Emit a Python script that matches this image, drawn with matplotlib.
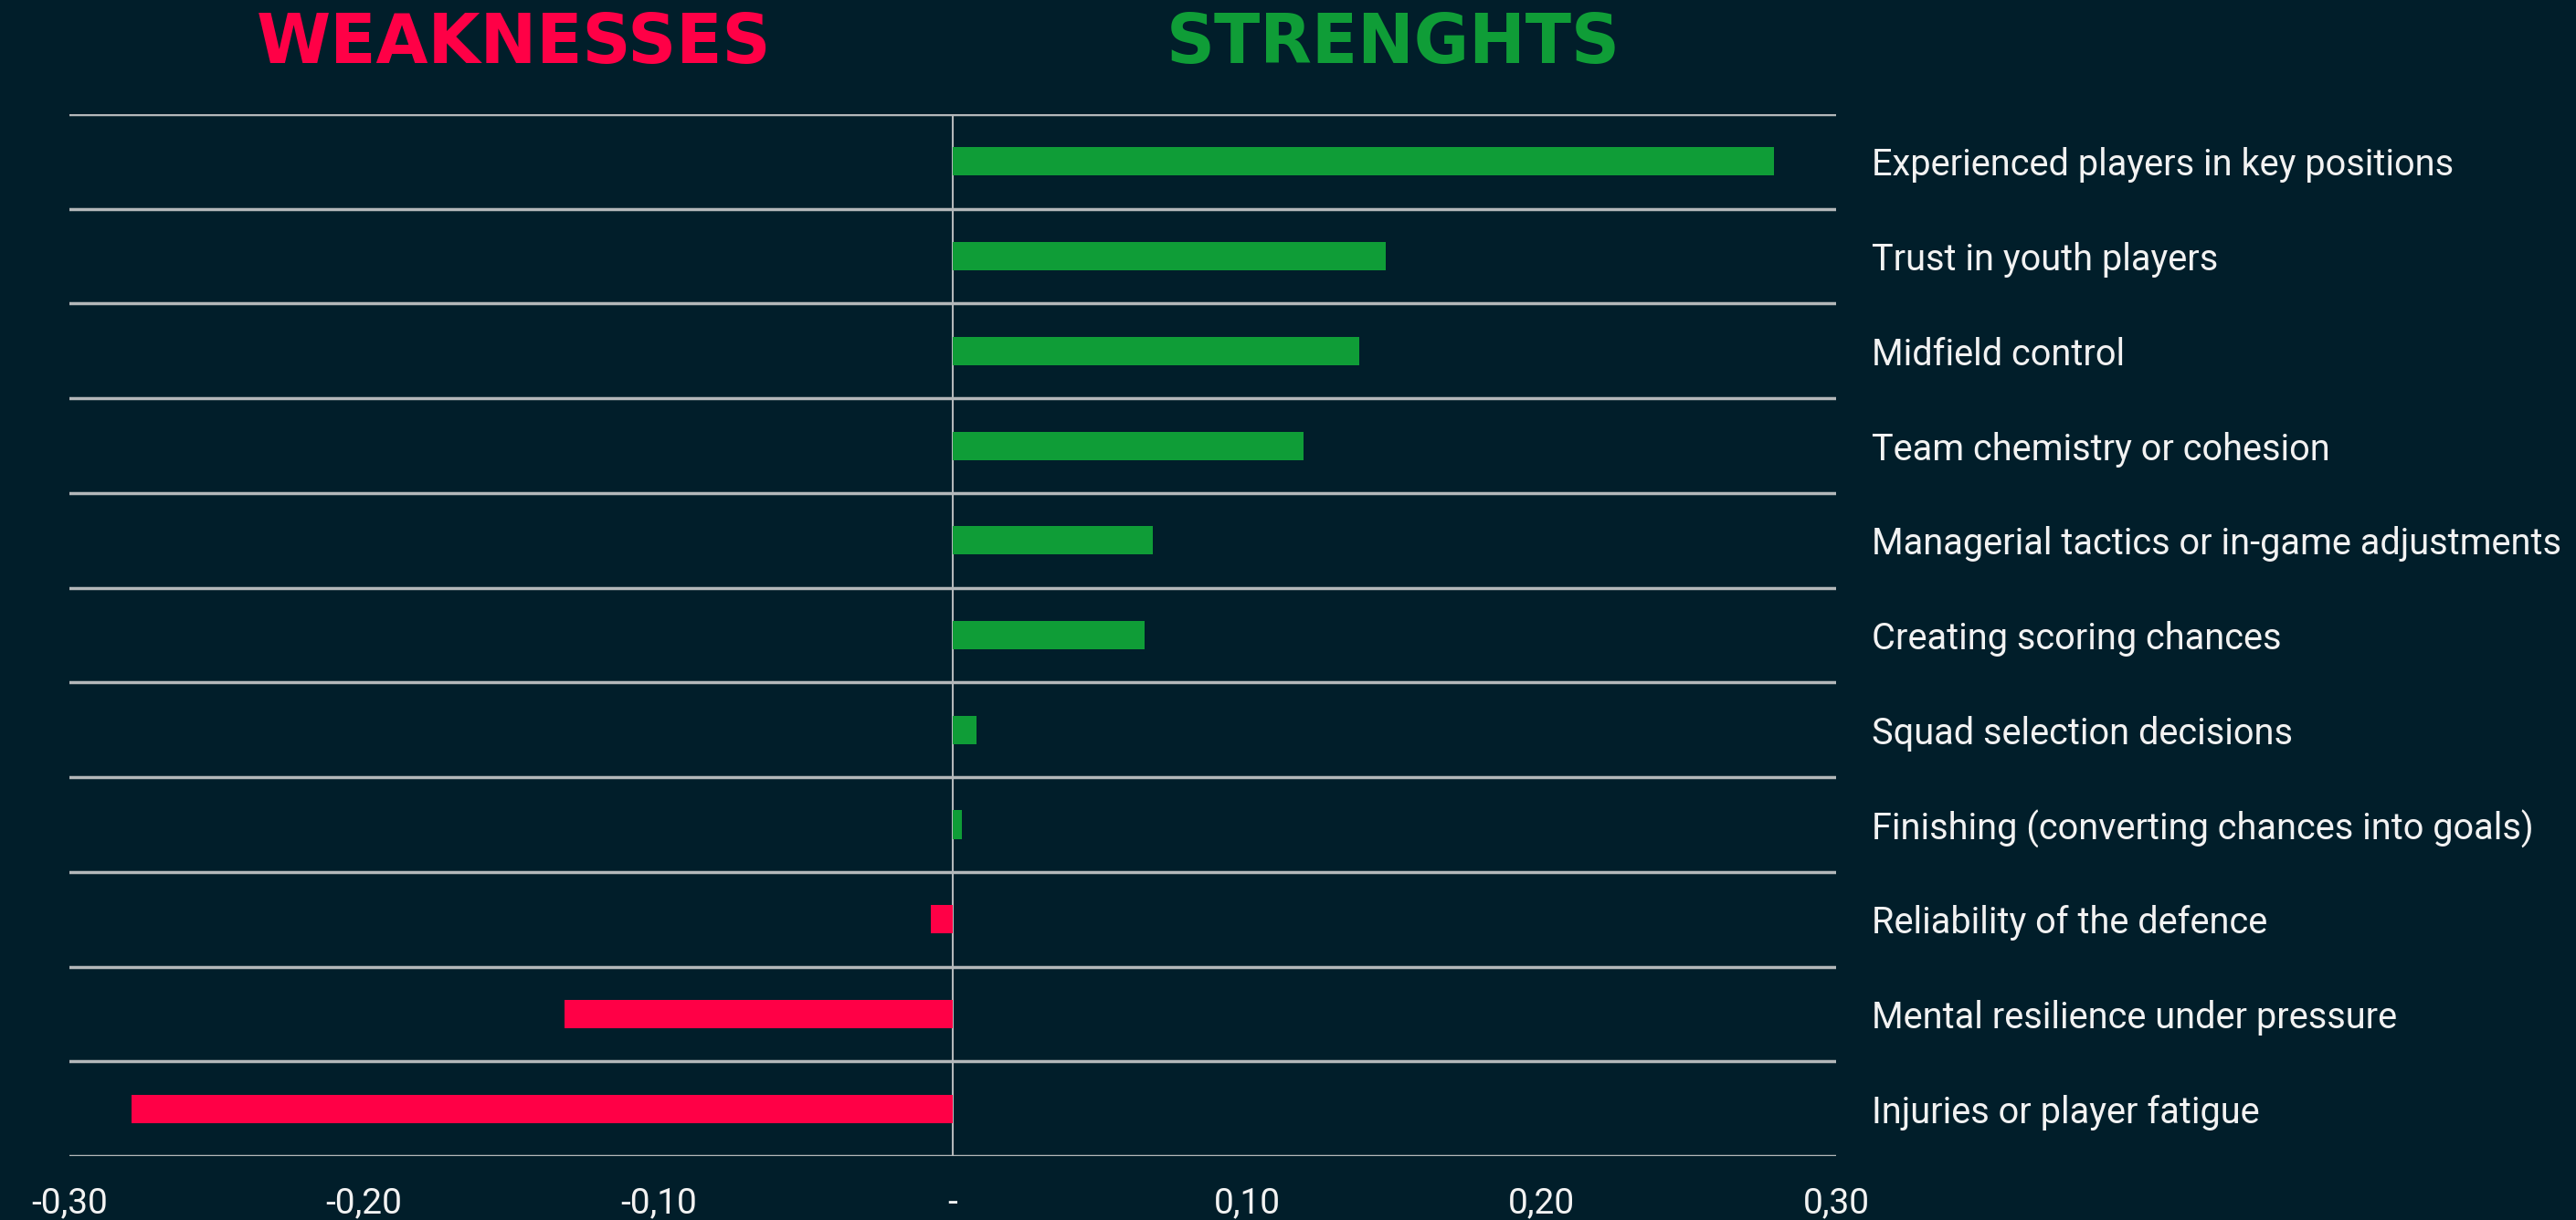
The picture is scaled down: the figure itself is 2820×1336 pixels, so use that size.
import matplotlib
matplotlib.use('Agg')
import matplotlib.pyplot as plt
from matplotlib.ticker import FixedLocator, FuncFormatter

# categories, top to bottom
categories = [
    'Experienced players in key positions',
    'Trust in youth players',
    'Midfield control',
    'Team chemistry or cohesion',
    'Managerial tactics or in-game adjustments',
    'Creating scoring chances',
    'Squad selection decisions',
    'Finishing (converting chances into goals)',
    'Reliability of the defence',
    'Mental resilience under pressure',
    'Injuries or player fatigue',
]
scores = [0.279, 0.147, 0.138, 0.119, 0.068, 0.065, 0.008, 0.003, -0.0075, -0.132, -0.279]
x_ticks = [-0.30, -0.20, -0.10, 0.0, 0.10, 0.20, 0.30]

BG = '#011e2a'
GREEN = '#0f9d37'
RED = '#ff0046'
GRID = '#b4b8ba'
TEXT = '#f2f2f2'

plt.rcParams['font.family'] = ['Roboto', 'DejaVu Sans']

fig = plt.figure(figsize=(28.2, 13.36), dpi=100, facecolor=BG)
ax = fig.add_axes([0.027, 0.0524, 0.6858, 0.854], facecolor=BG)

n = len(categories)
ypos = list(range(n))
colors = [GREEN if v >= 0 else RED for v in scores]
ax.barh(ypos, scores, height=0.3, color=colors, zorder=3)

ax.set_ylim(n - 0.5, -0.5)
ax.set_xlim(-0.30, 0.30)

# separators between categories
ax.yaxis.set_minor_locator(FixedLocator([i - 0.5 for i in range(n + 1)]))
ax.grid(axis='y', which='minor', color=GRID, linewidth=2.5, zorder=1)
ax.axvline(0, color=GRID, linewidth=1.5, zorder=2)

ax.yaxis.tick_right()
ax.set_yticks(ypos)
ax.set_yticklabels(categories)
ax.xaxis.set_major_locator(FixedLocator(x_ticks))


def fmt(v, pos):
    if abs(v) < 1e-9:
        return '-'
    return ('%.2f' % v).replace('.', ',')


ax.xaxis.set_major_formatter(FuncFormatter(fmt))
ax.tick_params(axis='y', which='both', length=0, pad=28, labelsize=28.6, labelcolor=TEXT)
ax.tick_params(axis='x', length=0, pad=24, labelsize=28, labelcolor=TEXT)
for s in ax.spines.values():
    s.set_visible(False)

title_font = ['Liberation Sans Narrow', 'DejaVu Sans']
fig.text(563 / 2820, 1 - 49 / 1336, 'WEAKNESSES', color=RED, fontsize=53,
         fontweight='bold', family=title_font, ha='center', va='center')
fig.text(1525 / 2820, 1 - 49 / 1336, 'STRENGHTS', color=GREEN, fontsize=53,
         fontweight='bold', family=title_font, ha='center', va='center')

fig.savefig('out.png', dpi=100, facecolor=BG)
